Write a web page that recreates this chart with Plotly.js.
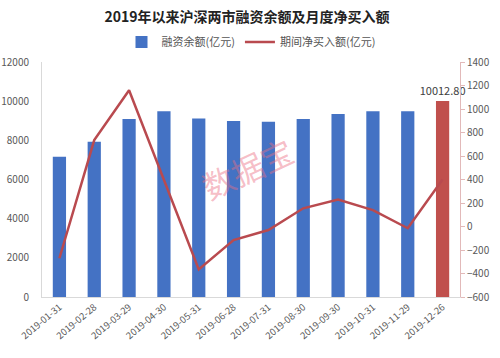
<!DOCTYPE html>
<html><head><meta charset="utf-8">
<script src="https://cdn.plot.ly/plotly-3.0.1.min.js"></script>
<style>html,body{margin:0;padding:0;background:#fff}#c{width:500px;height:358px}</style>
</head><body><div id="c"></div>
<script>
const dates = ['2019-01-31','2019-02-28','2019-03-29','2019-04-30','2019-05-31','2019-06-28','2019-07-31','2019-08-30','2019-09-30','2019-10-31','2019-11-29','2019-12-26'];
const balance = [7165, 7930, 9090, 9480, 9120, 8990, 8950, 9090, 9345, 9480, 9480, 10012.80];
const netBuy = [-270, 735, 1160, 400, -365, -115, -30, 155, 230, 140, -15, 400];
const barColors = dates.map((d,i)=> i===dates.length-1 ? '#C0504D' : '#4472C4');
const barLabels = balance.map((v,i)=> i===balance.length-1 ? v.toFixed(2) : '');
const F = '"Noto Sans CJK SC", "Noto Sans", sans-serif';
const traces = [
 {type:'bar', x:dates, y:balance, name:'融资余额(亿元)', marker:{color:barColors},
  text:barLabels, textposition:'outside', constraintext:'none', cliponaxis:false, textfont:{size:11,color:'#404040',family:F}, yaxis:'y'},
 {type:'scatter', mode:'lines', x:dates, y:netBuy, name:'期间净买入额(亿元)', line:{color:'#B94A4F',width:2.5}, yaxis:'y2'}
];
const layout = {
 width:500, height:358, paper_bgcolor:'#fff', plot_bgcolor:'#fff',
 margin:{l:42,r:40,t:62,b:61},
 font:{family:F,size:10,color:'#595959'},
 title:{text:'<b>2019年以来沪深两市融资余额及月度净买入额</b>', x:0.494, xanchor:'center', y:0.952, yanchor:'middle', font:{size:14,color:'#222',family:F}},
 showlegend:true,
 legend:{orientation:'h', x:0.5, xanchor:'center', y:1.085, yanchor:'middle', font:{size:11,color:'#555'}, traceorder:'normal'},
 bargap:0.62,
 xaxis:{type:'category', tickangle:-40, showgrid:false, showline:true, linecolor:'#d9d9d9', linewidth:1, ticks:'', tickfont:{size:9.5,color:'#595959'}},
 yaxis:{range:[0,12000], dtick:2000, tickformat:'d', showgrid:false, showline:true, linecolor:'#d9d9d9', zeroline:false, ticks:'', tickfont:{size:10}, ticklabelstandoff:10},
 yaxis2:{overlaying:'y', side:'right', range:[-600,1400], dtick:200, tickformat:'d', showgrid:false, showline:true, linecolor:'#e2b9b9', zeroline:false, ticks:'outside', ticklen:4, tickcolor:'#e2b9b9', tickfont:{size:10}},
 annotations:[{text:'数据宝', xref:'paper', yref:'paper', x:0.49, y:0.55, showarrow:false, textangle:-25, font:{size:32,color:'rgba(235,110,130,0.45)',family:F}}]
};
Plotly.newPlot('c', traces, layout, {displayModeBar:false, staticPlot:true});
</script></body></html>
